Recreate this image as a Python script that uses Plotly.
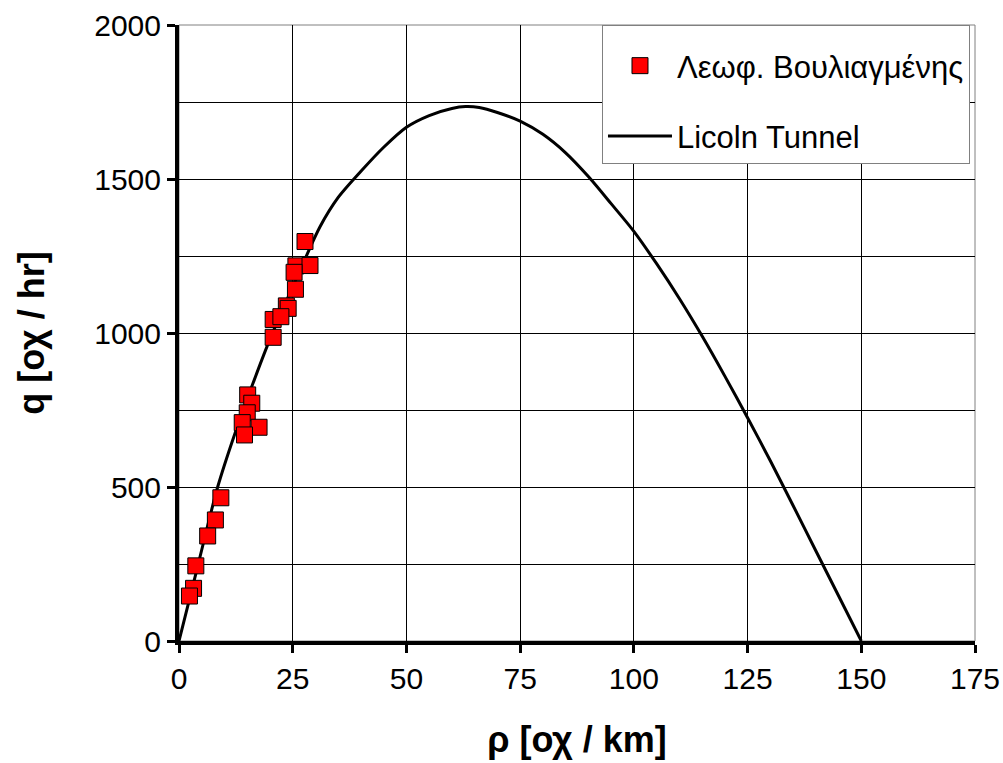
import plotly.graph_objects as go

# Measured points (Λεωφ. Βουλιαγμένης)
density_obs = [27.7, 25.7, 28.8, 25.3, 25.6, 23.6, 24.0, 20.7, 22.4, 20.7,
               15.1, 16.0, 15.0, 13.9, 17.6, 14.4, 9.2, 8.0, 6.3, 3.7, 3.2, 2.3]
flow_obs = [1297, 1218, 1219, 1197, 1142, 1088, 1080, 1044, 1053, 986,
            799, 772, 741, 709, 694, 669, 465, 393, 341, 244, 171, 146]

# Lincoln Tunnel curve
density_curve = [0, 4, 8.5, 12.3, 16, 20, 25, 28, 31, 35, 40, 45, 50, 55, 60, 63,
                 66, 70, 75, 80, 85, 90, 95, 100, 105, 110, 115, 120, 125, 130,
                 135, 140, 145, 150]
flow_curve = [0, 236, 500, 674, 826, 980, 1150, 1250, 1345, 1440, 1525, 1603, 1668,
              1706, 1729, 1735, 1732, 1716, 1688, 1645, 1585, 1508, 1420, 1330,
              1225, 1112, 990, 860, 725, 585, 440, 293, 147, 0]

x_ticks = [0, 25, 50, 75, 100, 125, 150, 175]
y_ticks = [0, 500, 1000, 1500, 2000]

FONT = "Liberation Sans, Arial, sans-serif"

fig = go.Figure()
fig.add_trace(go.Scatter(
    x=density_curve, y=flow_curve, mode="lines", name="Licoln Tunnel",
    line=dict(color="black", width=3, shape="spline", smoothing=0.8),
    legendrank=2, legendgroup="b",
))
fig.add_trace(go.Scatter(
    x=density_obs, y=flow_obs, mode="markers", name="Λεωφ. Βουλιαγμένης",
    marker=dict(symbol="square", size=16, color="#FF0000",
                line=dict(color="black", width=1)),
    legendrank=1, legendgroup="a",
))

fig.update_layout(
    width=1003, height=763,
    margin=dict(l=179, r=28, t=25, b=122),
    paper_bgcolor="white", plot_bgcolor="white",
    font=dict(family=FONT, size=30, color="black"),
    showlegend=True,
    legend=dict(
        x=0.9937, y=1, xanchor="right", yanchor="top",
        bgcolor="white", bordercolor="#808080", borderwidth=1,
        font=dict(size=31), tracegroupgap=27, traceorder="grouped",
        itemwidth=64,
        title=dict(text=" ", font=dict(size=10)),
    ),
    xaxis=dict(
        range=[0, 175], tickvals=x_ticks, ticktext=[str(v) for v in x_ticks],
        showgrid=True, gridcolor="black", gridwidth=1,
        showline=True, linecolor="black", linewidth=4,
        ticks="outside", ticklen=8, tickwidth=3, tickcolor="black",
        zeroline=False, tickfont=dict(size=30), automargin=False,
        title=dict(text="<b>ρ [οχ / km]</b>", font=dict(size=36), standoff=34),
    ),
    yaxis=dict(
        range=[0, 2000], tickvals=y_ticks, ticktext=[str(v) for v in y_ticks],
        showgrid=True, gridcolor="black", gridwidth=1,
        minor=dict(dtick=250, showgrid=True, gridcolor="black", gridwidth=1),
        showline=True, linecolor="black", linewidth=4,
        ticks="outside", ticklen=8, tickwidth=3, tickcolor="black",
        zeroline=False, tickfont=dict(size=30), automargin=False,
        title=dict(text="<b>q [οχ / hr]</b>", font=dict(size=36), standoff=40),
    ),
    shapes=[dict(type="rect", xref="paper", yref="paper", x0=0, x1=1, y0=0, y1=1,
                 line=dict(color="#808080", width=1), layer="below")],
)

fig.write_html("out.html")
